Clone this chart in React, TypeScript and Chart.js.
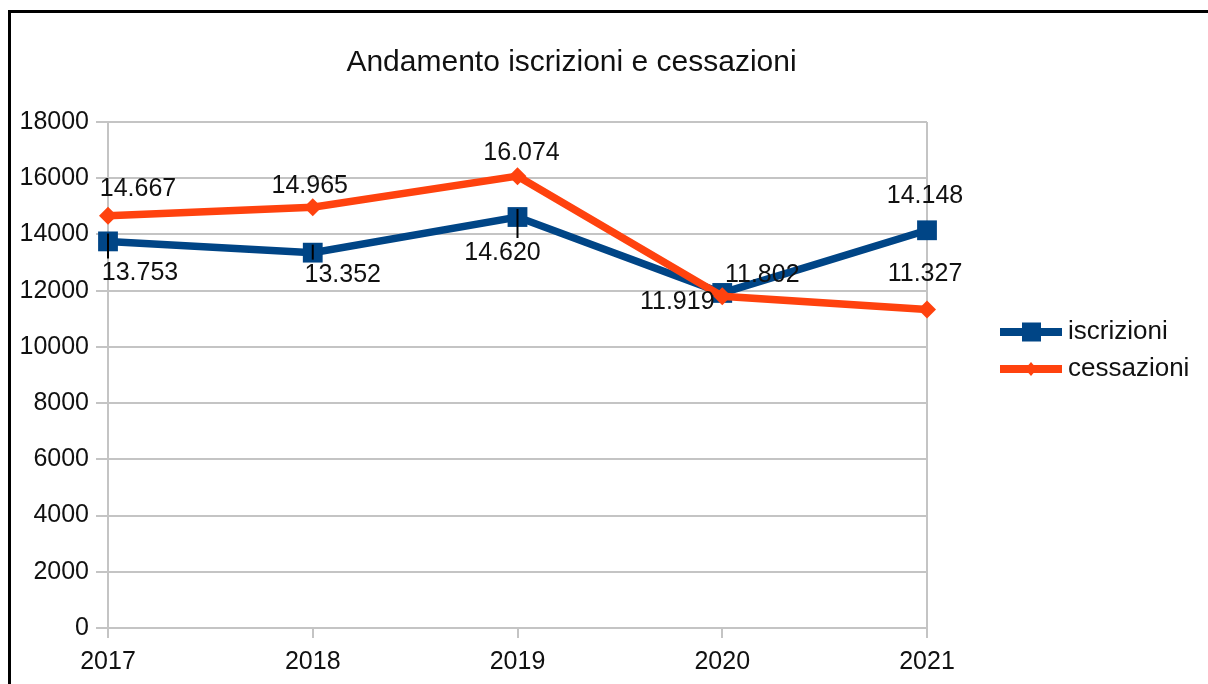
import React, { useEffect, useRef } from 'react';
import { Chart, registerables } from 'chart.js';

Chart.register(...registerables);

// ---- data ----
const chartTitle = 'Andamento iscrizioni e cessazioni';
const categories = ['2017', '2018', '2019', '2020', '2021'];
const seriesNames = ['iscrizioni', 'cessazioni'];
const iscrizioni = [13753, 13352, 14620, 11919, 14148];
const cessazioni = [14667, 14965, 16074, 11802, 11327];
const yMin = 0;
const yMax = 18000;
const yStep = 2000;

// ---- style ----
const BLUE = '#004586';
const ORANGE = '#ff420e';
const GRID = '#c4c4c4';
const FONT_FAMILY = '"Liberation Sans", Arial, sans-serif';
const TEXT = '#111111';

// label offsets (pixels from the point) for each series
const labelOffsets = [
  [
    { dx: 32, dy: 32, leader: true },
    { dx: 30, dy: 22, leader: true },
    { dx: -15, dy: 36, leader: true },
    { dx: -45, dy: 9, leader: false },
    { dx: -2, dy: -34, leader: false },
  ],
  [
    { dx: 30, dy: -27, leader: false },
    { dx: -3, dy: -21, leader: false },
    { dx: 4, dy: -23, leader: false },
    { dx: 40, dy: -21, leader: false },
    { dx: -2, dy: -35, leader: false },
  ],
];

function fmt(v: number): string {
  return String(Math.round(v)).replace(/\B(?=(\d{3})+(?!\d))/g, '.');
}

const decorPlugin = {
  id: 'decor',
  afterDatasetsDraw(chart: any) {
    const ctx = chart.ctx as CanvasRenderingContext2D;
    ctx.save();
    ctx.font = `25px ${FONT_FAMILY}`;
    ctx.textAlign = 'center';
    ctx.textBaseline = 'middle';
    chart.data.datasets.forEach((ds: any, di: number) => {
      const meta = chart.getDatasetMeta(di);
      meta.data.forEach((pt: any, i: number) => {
        const off = labelOffsets[di][i];
        const lx = pt.x + off.dx;
        const ly = pt.y + off.dy;
        if (off.leader) {
          ctx.strokeStyle = '#000000';
          ctx.lineWidth = 2;
          ctx.beginPath();
          ctx.moveTo(pt.x, pt.y - 8);
          ctx.lineTo(pt.x, ly - 15);
          ctx.stroke();
        }
        ctx.fillStyle = TEXT;
        ctx.fillText(fmt(ds.data[i]), lx, ly);
      });
    });
    ctx.restore();
  },
  afterDraw(chart: any) {
    const ctx = chart.ctx as CanvasRenderingContext2D;
    ctx.save();
    // title
    ctx.font = `30px ${FONT_FAMILY}`;
    ctx.fillStyle = TEXT;
    ctx.textAlign = 'center';
    ctx.textBaseline = 'middle';
    ctx.fillText(chartTitle, 571.5, 63);

    // legend
    const items = [
      { name: seriesNames[0], color: BLUE, shape: 'rect', y: 332 },
      { name: seriesNames[1], color: ORANGE, shape: 'diamond', y: 369 },
    ];
    items.forEach((it) => {
      ctx.strokeStyle = it.color;
      ctx.fillStyle = it.color;
      ctx.lineWidth = 8;
      ctx.beginPath();
      ctx.moveTo(1000, it.y);
      ctx.lineTo(1062, it.y);
      ctx.stroke();
      if (it.shape === 'rect') {
        ctx.fillRect(1022, it.y - 9.5, 19, 19);
      } else {
        ctx.beginPath();
        ctx.moveTo(1031, it.y - 7);
        ctx.lineTo(1037, it.y);
        ctx.lineTo(1031, it.y + 7);
        ctx.lineTo(1025, it.y);
        ctx.closePath();
        ctx.fill();
      }
      ctx.font = `26px ${FONT_FAMILY}`;
      ctx.fillStyle = TEXT;
      ctx.textAlign = 'left';
      ctx.textBaseline = 'middle';
      ctx.fillText(it.name, 1068, it.y);
    });
    ctx.restore();
  },
};

export default function App() {
  const ref = useRef<HTMLCanvasElement>(null);

  useEffect(() => {
    const canvas = ref.current;
    if (!canvas) return;
    const tickFont = { family: FONT_FAMILY, size: 25 };
    const chart = new Chart(canvas, {
      type: 'line',
      data: {
        labels: categories,
        datasets: [
          {
            label: seriesNames[0],
            data: iscrizioni,
            borderColor: BLUE,
            backgroundColor: BLUE,
            borderWidth: 7.5,
            pointStyle: 'rect',
            pointRadius: 14,
            pointBorderWidth: 0,
            pointBackgroundColor: BLUE,
            pointBorderColor: BLUE,
            tension: 0,
            fill: false,
            clip: false,
            order: 1,
          },
          {
            label: seriesNames[1],
            data: cessazioni,
            borderColor: ORANGE,
            backgroundColor: ORANGE,
            borderWidth: 7.5,
            pointStyle: 'rectRot',
            pointRadius: 9,
            pointBorderWidth: 0,
            pointBackgroundColor: ORANGE,
            pointBorderColor: ORANGE,
            tension: 0,
            fill: false,
            clip: false,
            order: 0,
          },
        ],
      } as any,
      options: {
        responsive: false,
        maintainAspectRatio: false,
        animation: false,
        events: [],
        layout: { padding: { top: 122, left: 0, right: 281, bottom: 0 } },
        plugins: {
          legend: { display: false },
          title: { display: false },
          tooltip: { enabled: false },
        },
        scales: {
          x: {
            offset: false,
            grid: {
              color: (c: any) => (c.index === 0 || c.index === categories.length - 1 ? GRID : 'rgba(0,0,0,0)'),
              tickColor: GRID,
              tickLength: 10,
              lineWidth: 2,
            },
            border: { display: true, color: GRID, width: 2 },
            ticks: { font: tickFont, color: TEXT, padding: 9, maxRotation: 0, autoSkip: false },
            afterFit: (s: any) => {
              s.height = 56;
            },
          },
          y: {
            min: yMin,
            max: yMax,
            grid: { color: GRID, lineWidth: 2, tickLength: 12, tickColor: GRID },
            border: { display: true, color: GRID, width: 2 },
            ticks: {
              stepSize: yStep,
              font: tickFont,
              color: TEXT,
              padding: 7,
              callback: (v: any) => String(v),
            },
            afterFit: (s: any) => {
              s.width = 108;
            },
          },
        },
      } as any,
      plugins: [decorPlugin],
    });
    return () => chart.destroy();
  }, []);

  return (
    <div
      style={{
        position: 'fixed',
        left: 0,
        top: 0,
        width: 1208,
        height: 684,
        background: '#ffffff',
        overflow: 'hidden',
      }}
    >
      <div
        style={{
          position: 'absolute',
          left: 8,
          top: 10,
          width: 1220,
          height: 700,
          borderLeft: '3px solid #000',
          borderTop: '3px solid #000',
          boxSizing: 'border-box',
        }}
      />
      <canvas
        ref={ref}
        width={1208}
        height={684}
        style={{ position: 'absolute', left: 0, top: 0, width: 1208, height: 684 }}
      />
    </div>
  );
}
